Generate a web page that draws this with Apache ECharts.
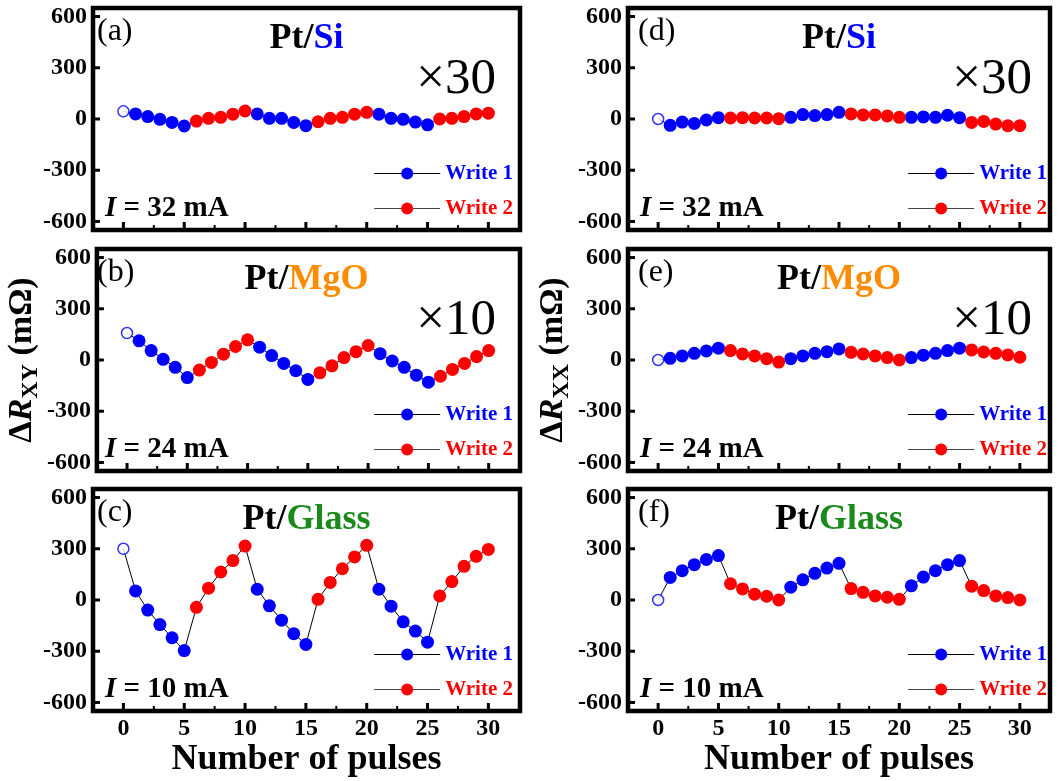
<!DOCTYPE html>
<html><head><meta charset="utf-8">
<script src="https://cdn.jsdelivr.net/npm/echarts@6/dist/echarts.min.js"></script>
<style>html,body{margin:0;padding:0;background:#fff}#c{width:1063px;height:781px}</style>
</head><body><div id="c"></div>
<script>
// ---------- data ----------
const pulses = Array.from({length: 31}, (_, i) => i);
const xTickValues = [0, 5, 10, 15, 20, 25, 30];
const xMinorTickValues = [2.5, 7.5, 12.5, 17.5, 22.5, 27.5];
const yTickValues = [-600, -300, 0, 300, 600];

// ΔR_XY (left column)
const siXY    = [45, 30, 14, -2, -20, -41, -12, 4, 10, 28, 47, 30, 4, 4, -20, -39, -16, 4, 10, 28, 39, 28, 4, -2, -18, -34, 0, 4, 14, 30, 34];
const mgoXY   = [158, 112, 55, 4, -43, -103, -59, -14, 34, 79, 118, 75, 26, -20, -63, -114, -75, -34, 14, 49, 85, 37, -6, -43, -89, -130, -95, -55, -20, 20, 55];
const glassXY = [300, 53, -59, -144, -221, -296, -43, 69, 164, 231, 316, 63, -34, -118, -197, -260, 4, 103, 183, 252, 320, 63, -36, -128, -182, -247, 24, 108, 197, 256, 296];
// ΔR_XX (right column)
const siXX    = [0, -37, -18, -26, -6, 8, 6, 8, 6, 6, 2, 10, 26, 20, 26, 39, 30, 24, 24, 18, 10, 10, 12, 10, 22, 8, -20, -14, -30, -39, -39];
const mgoXX   = [0, 10, 24, 39, 53, 69, 55, 35, 24, 8, -12, 8, 24, 39, 49, 65, 45, 35, 24, 14, 0, 14, 28, 39, 55, 69, 59, 47, 39, 30, 16];
const glassXX = [0, 132, 172, 207, 237, 260, 95, 65, 34, 22, 0, 75, 118, 156, 187, 215, 67, 45, 24, 16, 4, 83, 134, 172, 207, 231, 81, 55, 24, 14, 0];

const panelValues = [siXY, mgoXY, glassXY, siXX, mgoXX, glassXX];
const panelLetters = ['(a)', '(b)', '(c)', '(d)', '(e)', '(f)'];
const substrates = ['Si', 'MgO', 'Glass'];
const scaleFactors = ['×30', '×10', ''];
const currents = ['32', '24', '10'];
const seriesNames = ['Write 1', 'Write 2'];
const yNames = ['XY', 'XX'];
const xName = 'Number of pulses';

// ---------- style / layout ----------
const FONT = '"Liberation Serif", "Times New Roman", serif';
const BLUE = '#0000ff', RED = '#ff0000';
const substrateColors = ['#0000ff', '#ff8c00', '#1a8a1a'];
const Y_MIN = -650, Y_MAX = 650;
const cols = [{left: 93, width: 427, xMin: -2.5, xMax: 32.6, letterDx: 4, scaleDx: 24, legendRight: 550, nameGap: 41},
              {left: 628, width: 422, xMin: -2.5, xMax: 32.5, letterDx: 10, scaleDx: 18, legendRight: 16, nameGap: 45}];
const rows = [{top: 8, height: 222}, {top: 249, height: 222}, {top: 489, height: 222}];
// tick kinds: 0 = major x, 1 = minor x, 2 = y
const tickLen = [8, 5, 7], tickWidth = [3, 2, 3];

const grid = [], xAxis = [], yAxis = [], series = [], legend = [], graphic = [];

function isWrite1(i) { return i >= 1 && Math.floor((i - 1) / 5) % 2 === 0; }
function isWrite2(i) { return i >= 1 && Math.floor((i - 1) / 5) % 2 === 1; }

function renderTick(params, api) {
  const kind = api.value(2);
  const p = api.coord([api.value(0), api.value(1)]);
  const L = tickLen[kind];
  const shape = kind === 2 ? {x1: p[0], y1: p[1], x2: p[0] + L, y2: p[1]}
                           : {x1: p[0], y1: p[1], x2: p[0], y2: p[1] - L};
  return {type: 'line', shape, style: {stroke: '#000', lineWidth: tickWidth[kind]}};
}

for (let c = 0; c < 2; c++) {
  for (let r = 0; r < 3; r++) {
    const g = c * 3 + r;
    const col = cols[c], row = rows[r];
    const vals = panelValues[g];
    grid.push({left: col.left, top: row.top, width: col.width, height: row.height,
      show: true, borderWidth: 4.5, borderColor: '#000', backgroundColor: 'transparent', containLabel: false});

    xAxis.push({
      type: 'value', gridIndex: g, min: col.xMin, max: col.xMax, position: 'bottom',
      axisLine: {show: false, onZero: false}, splitLine: {show: false}, axisTick: {show: false},
      axisLabel: {show: r === 2, customValues: xTickValues, margin: 6,
        fontFamily: FONT, fontWeight: 'bold', fontSize: 24, color: '#000'},
      name: r === 2 ? xName : '', nameLocation: 'middle', nameGap: 29,
      nameTextStyle: {fontFamily: FONT, fontWeight: 'bold', fontSize: 36, color: '#000'}
    });
    yAxis.push({
      type: 'value', gridIndex: g, min: Y_MIN, max: Y_MAX, position: 'left',
      axisLine: {show: false, onZero: false}, splitLine: {show: false}, axisTick: {show: false},
      axisLabel: {customValues: yTickValues, margin: 6, fontFamily: FONT, fontWeight: 'bold', fontSize: 24, color: '#000'},
      name: r === 1 ? '{d|Δ}{r|R}{s|' + yNames[c] + '}{d| (mΩ)}' : '',
      nameLocation: 'middle', nameGap: col.nameGap,
      nameTextStyle: {
        rich: {
          d: {fontFamily: FONT, fontWeight: 'bold', fontSize: 34, color: '#000', lineHeight: 40},
          r: {fontFamily: FONT, fontWeight: 'bold', fontStyle: 'italic', fontSize: 34, color: '#000', lineHeight: 40},
          s: {fontFamily: FONT, fontWeight: 'bold', fontSize: 24, color: '#000', lineHeight: 24, padding: [18, 0, 0, 0]}
        }
      }
    });

    // tick marks (inside the frame), positioned through the axes' own scales
    const tickData = [].concat(
      xTickValues.map(v => [v, Y_MIN, 0]),
      xMinorTickValues.map(v => [v, Y_MIN, 1]),
      yTickValues.map(v => [col.xMin, v, 2])
    );
    series.push({
      type: 'custom', name: 'ticks' + g, xAxisIndex: g, yAxisIndex: g, data: tickData,
      renderItem: renderTick, silent: true, clip: false, z: 4, animation: false
    });
    // connecting line
    series.push({
      type: 'line', name: 'conn' + g, xAxisIndex: g, yAxisIndex: g,
      data: pulses.map((p, i) => [p, vals[i]]), symbol: 'none', silent: true,
      lineStyle: {color: '#000', width: 1}, z: 1, animation: false
    });
    series.push({
      type: 'line', name: seriesNames[0], xAxisIndex: g, yAxisIndex: g,
      data: pulses.filter(isWrite1).map(p => [p, vals[p]]),
      symbol: 'circle', symbolSize: 13, showAllSymbol: true,
      itemStyle: {color: BLUE}, lineStyle: {width: 0, opacity: 0}, z: 3, animation: false
    });
    series.push({
      type: 'line', name: seriesNames[1], xAxisIndex: g, yAxisIndex: g,
      data: pulses.filter(isWrite2).map(p => [p, vals[p]]),
      symbol: 'circle', symbolSize: 13, showAllSymbol: true,
      itemStyle: {color: RED}, lineStyle: {width: 0, opacity: 0}, z: 3, animation: false
    });
    series.push({
      type: 'scatter', name: 'init' + g, xAxisIndex: g, yAxisIndex: g,
      data: [[pulses[0], vals[0]]], symbol: 'circle', symbolSize: 11,
      itemStyle: {color: '#fff', borderColor: BLUE, borderWidth: 1.5}, z: 3, animation: false
    });

    const bottom = row.top + row.height;
    legend.push({
      orient: 'vertical', right: col.legendRight, top: bottom - 67, padding: 0,
      itemWidth: 66, itemHeight: 15, itemGap: 14, selectedMode: false,
      textStyle: {fontFamily: FONT, fontWeight: 'bold', fontSize: 21},
      data: [
        {name: seriesNames[0], textStyle: {color: BLUE}, lineStyle: {color: '#000', width: 1, opacity: 1}},
        {name: seriesNames[1], textStyle: {color: RED}, lineStyle: {color: '#444', width: 1, opacity: 1}}
      ]
    });

    // panel texts
    graphic.push({type: 'text', x: col.left + col.letterDx, y: row.top + 24, silent: true,
      style: {text: panelLetters[g], font: '32px ' + FONT, fill: '#000', align: 'left', verticalAlign: 'middle'}});
    graphic.push({type: 'text', x: col.left + col.width / 2, y: row.top + 31, silent: true,
      style: {text: '{k|Pt/}{m|' + substrates[r] + '}', align: 'center', verticalAlign: 'middle',
        rich: {k: {font: 'bold 36px ' + FONT, fill: '#000'}, m: {font: 'bold 36px ' + FONT, fill: substrateColors[r]}}}});
    if (scaleFactors[r]) {
      graphic.push({type: 'text', x: col.left + col.width - col.scaleDx, y: row.top + 72, silent: true,
        style: {text: scaleFactors[r], font: '51px ' + FONT, fill: '#000', align: 'right', verticalAlign: 'middle'}});
    }
    graphic.push({type: 'text', x: col.left + 12, y: bottom - 21, silent: true,
      style: {text: '{i|I}{t| = ' + currents[r] + ' mA}', align: 'left', verticalAlign: 'middle',
        rich: {i: {font: 'italic bold 29px ' + FONT, fill: '#000'}, t: {font: 'bold 29px ' + FONT, fill: '#000'}}}});
  }
}

const chart = echarts.init(document.getElementById('c'), null, {renderer: 'canvas'});
chart.setOption({animation: false, backgroundColor: '#fff', grid, xAxis, yAxis, series, legend, graphic});
</script>
</body></html>
